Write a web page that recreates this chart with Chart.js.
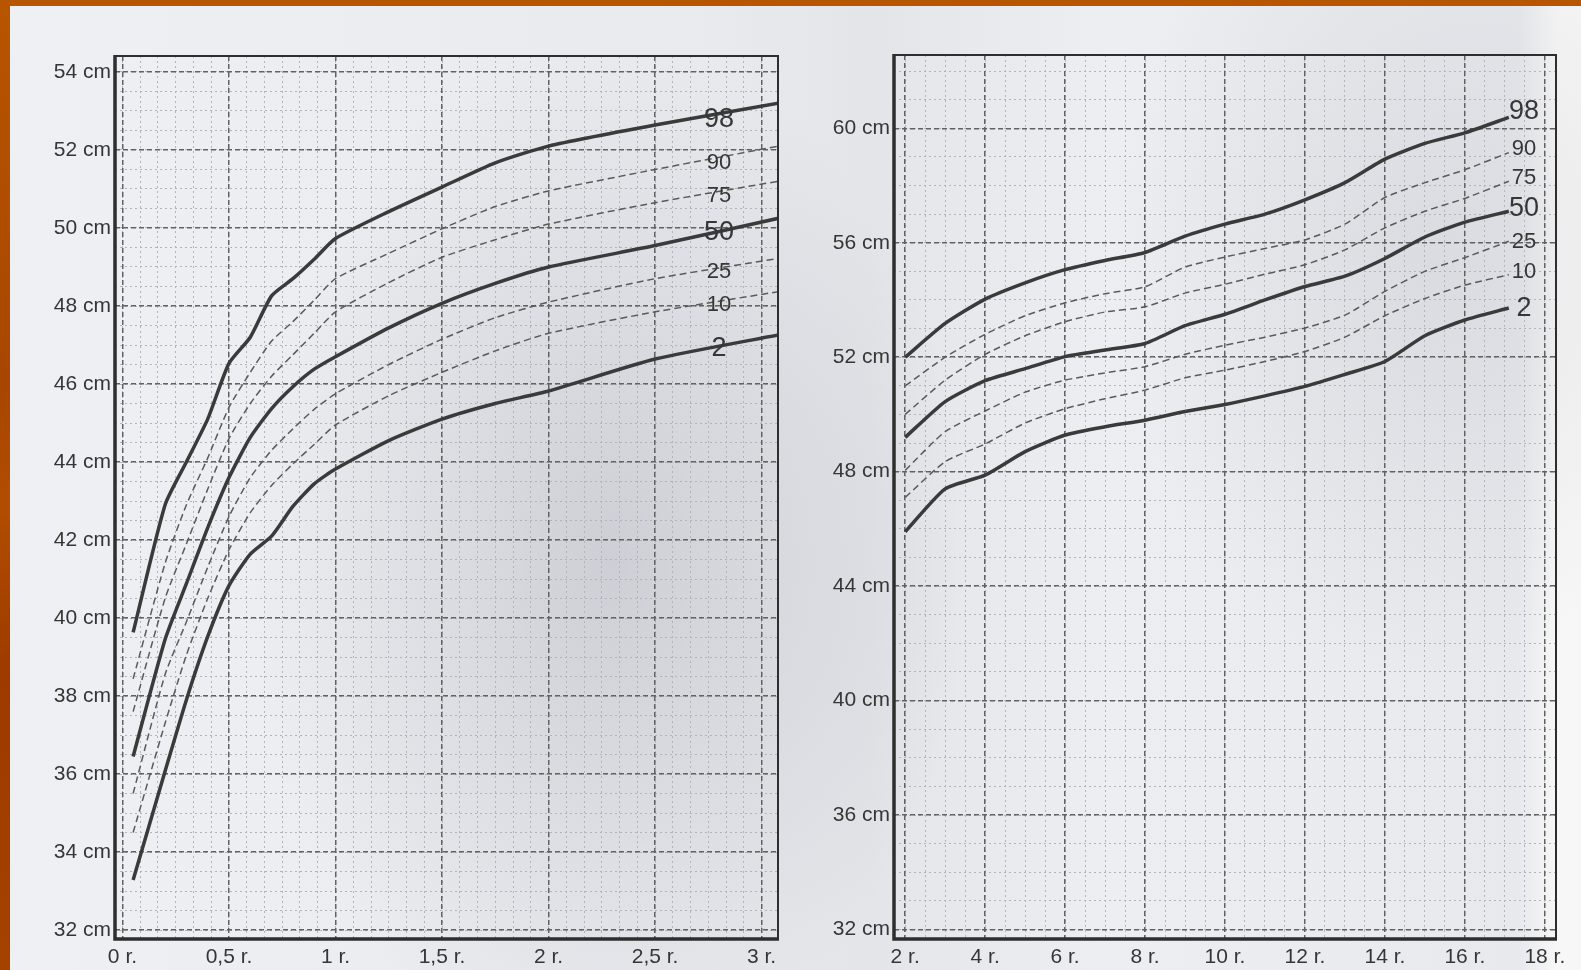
<!DOCTYPE html>
<html>
<head>
<meta charset="utf-8">
<title>Obwód głowy – siatki centylowe</title>
<script src="https://cdn.jsdelivr.net/npm/chart.js@4.4.1/dist/chart.umd.min.js"></script>
<style>
  html, body { margin: 0; padding: 0; }
  body {
    width: 1581px; height: 970px; overflow: hidden; position: relative;
    background:
      radial-gradient(ellipse 360px 520px at 610px 560px, rgba(140,142,155,0.30), rgba(140,142,155,0) 100%),
      radial-gradient(ellipse 320px 420px at 1430px 260px, rgba(140,142,155,0.16), rgba(140,142,155,0) 100%),
      linear-gradient(to right, #eff0f3 0, #e9eaee 45%, #e4e5e9 55%, #eceef1 70%, #e8e9ed 96%, #f7f7f7 98.5%);
  }
  .edge-top { position: absolute; left: 0; top: 0; width: 1581px; height: 6px; background: #b85500; }
  .edge-left { position: absolute; left: 0; top: 0; width: 10px; height: 970px;
    background: linear-gradient(to bottom, #b85500 0, #a84600 40%, #b24d00 52%, #9c3a00 70%, #a64200 100%); }
  #left { position: absolute; left: 0; top: 0; }
  #right { position: absolute; left: 800px; top: 0; }
</style>
</head>
<body>
<div class="edge-top"></div>
<div class="edge-left"></div>
<canvas id="left" width="800" height="970"></canvas>
<canvas id="right" width="781" height="970"></canvas>

<script>
// centyle (od góry)
const percentiles = ['98', '90', '75', '50', '25', '10', '2'];
const solidLines = ['98', '50', '2'];

// --- wykres lewy: 0-3 lata ---
const leftAges = [0.05, 0.2, 0.3, 0.4, 0.5, 0.6, 0.7, 0.8, 0.9, 1.0, 1.25, 1.5, 1.75, 2.0, 2.5, 3.08];
const left98 = [39.63, 42.9, 44.0, 45.1, 46.53, 47.2, 48.26, 48.7, 49.2, 49.73, 50.42, 51.05, 51.67, 52.1, 52.64, 53.2];
const left90 = [38.44, 41.4, 42.9, 44.1, 45.4, 46.3, 47.1, 47.6, 48.15, 48.7, 49.35, 49.98, 50.55, 50.95, 51.5, 52.1];
const left75 = [37.6, 40.5, 41.9, 43.3, 44.6, 45.5, 46.2, 46.75, 47.3, 47.85, 48.6, 49.25, 49.7, 50.1, 50.65, 51.2];
const left50 = [36.45, 39.45, 40.88, 42.31, 43.6, 44.63, 45.37, 45.93, 46.38, 46.7, 47.44, 48.07, 48.58, 49.0, 49.55, 50.25];
const left25 = [35.5, 38.55, 39.9, 41.3, 42.6, 43.6, 44.3, 44.85, 45.35, 45.75, 46.5, 47.15, 47.7, 48.1, 48.7, 49.22];
const left10 = [34.5, 37.3, 39.05, 40.5, 41.75, 42.7, 43.4, 43.95, 44.45, 44.95, 45.7, 46.3, 46.85, 47.3, 47.85, 48.37];
const left2 = [33.28, 36.07, 37.9, 39.52, 40.83, 41.64, 42.1, 42.86, 43.44, 43.82, 44.55, 45.1, 45.5, 45.82, 46.64, 47.26];
const leftXTicks = [0, 0.5, 1, 1.5, 2, 2.5, 3];
const leftYTicks = [32, 34, 36, 38, 40, 42, 44, 46, 48, 50, 52, 54];
const leftLabelAge = 2.8;
const leftLabelCm = [52.77, 51.67, 50.82, 49.88, 48.88, 48.03, 46.92];

// --- wykres prawy: 2-18 lat ---
const rightAges = [2, 3, 4, 5, 6, 7, 8, 9, 10, 11, 12, 13, 14, 15, 16, 17.1];
const right98 = [52.0, 53.18, 54.03, 54.6, 55.06, 55.38, 55.66, 56.23, 56.65, 57.0, 57.5, 58.1, 58.92, 59.47, 59.84, 60.38];
const right90 = [51.0, 52.0, 52.8, 53.45, 53.9, 54.22, 54.46, 55.15, 55.5, 55.8, 56.1, 56.65, 57.58, 58.1, 58.55, 59.15];
const right75 = [50.0, 51.2, 52.1, 52.75, 53.24, 53.58, 53.76, 54.24, 54.55, 54.9, 55.23, 55.75, 56.52, 57.1, 57.55, 58.15];
const right50 = [49.2, 50.45, 51.18, 51.6, 52.02, 52.25, 52.48, 53.1, 53.5, 54.0, 54.47, 54.83, 55.45, 56.2, 56.72, 57.1];
const right25 = [48.05, 49.4, 50.12, 50.78, 51.2, 51.45, 51.67, 52.1, 52.42, 52.7, 53.02, 53.47, 54.3, 55.0, 55.48, 56.05];
const right10 = [47.1, 48.35, 48.97, 49.7, 50.2, 50.55, 50.85, 51.28, 51.55, 51.85, 52.2, 52.7, 53.45, 54.05, 54.52, 54.88];
const right2 = [45.9, 47.4, 47.88, 48.7, 49.28, 49.57, 49.8, 50.1, 50.35, 50.65, 50.98, 51.4, 51.85, 52.75, 53.3, 53.72];
const rightXTicks = [2, 4, 6, 8, 10, 12, 14, 16, 18];
const rightYTicks = [32, 36, 40, 44, 48, 52, 56, 60];
const rightLabelAge = 17.48;
const rightLabelCm = [60.58, 59.27, 58.25, 57.2, 56.04, 54.99, 53.71];

const FONT = '"Liberation Sans", Arial, Helvetica, sans-serif';
const INK = '#363636';

// gęstsza siatka (co miesiąc / co 0,5 cm po lewej; co pół roku / co 1 cm po prawej)
function steps(from, to, step) {
  const out = [];
  for (let v = from; v <= to + 1e-9; v += step) out.push(+v.toFixed(4));
  return out;
}

function buildSeries(ages, rows) {
  return rows.map((vals, i) => {
    const solid = solidLines.includes(percentiles[i]);
    return {
      label: percentiles[i],
      data: ages.map((a, k) => ({ x: a, y: vals[k] })),
      borderColor: solid ? '#3a3a3a' : '#5a5a5a',
      borderWidth: solid ? 3.5 : 1.5,
      borderDash: solid ? [] : [7, 4],
      pointRadius: 0,
      tension: 0.2,
      fill: false
    };
  });
}

// ramka wykresu + opisy centyli na liniach
const frameAndLabels = {
  id: 'frameAndLabels',
  afterDatasetsDraw(chart, args, opts) {
    const { ctx, chartArea: a, scales } = chart;
    ctx.save();
    ctx.fillStyle = INK;
    ctx.textAlign = 'center';
    ctx.textBaseline = 'middle';
    opts.labelCm.forEach((cm, i) => {
      const big = solidLines.includes(percentiles[i]);
      ctx.font = (big ? '27px ' : '22px ') + FONT;
      ctx.fillText(percentiles[i], scales.x.getPixelForValue(opts.labelAge), scales.y.getPixelForValue(cm));
    });
    ctx.strokeStyle = '#2e2e2e';
    ctx.lineWidth = 2;
    ctx.beginPath();
    ctx.moveTo(a.left, a.top); ctx.lineTo(a.right, a.top); ctx.lineTo(a.right, a.bottom);
    ctx.stroke();
    ctx.lineWidth = 3.5;
    ctx.beginPath();
    ctx.moveTo(a.left, a.top - 1); ctx.lineTo(a.left, a.bottom); ctx.lineTo(a.right + 1, a.bottom);
    ctx.stroke();
    ctx.restore();
  }
};

function makePanel(id, p) {
  const setTicks = vals => s => { s.ticks = vals.map(v => ({ value: v })); };
  return new Chart(document.getElementById(id), {
    type: 'line',
    data: { datasets: buildSeries(p.ages, p.rows) },
    plugins: [frameAndLabels],
    options: {
      responsive: false,
      animation: false,
      events: [],
      layout: { padding: { top: p.top, right: p.right, left: 0, bottom: 0 } },
      plugins: {
        legend: { display: false },
        tooltip: { enabled: false },
        frameAndLabels: { labelAge: p.labelAge, labelCm: p.labelCm }
      },
      scales: {
        xMinor: {
          type: 'linear', position: 'bottom', min: p.xMin, max: p.xMax,
          afterBuildTicks: setTicks(p.xMinor),
          afterFit: s => { s.height = 0; },
          ticks: { display: false },
          grid: { color: '#b3b4ba', lineWidth: 1, drawTicks: false },
          border: { display: false, dash: [2, 3] }
        },
        yMinor: {
          type: 'linear', position: 'left', min: p.yMin, max: p.yMax,
          afterBuildTicks: setTicks(p.yMinor),
          afterFit: s => { s.width = 0; },
          ticks: { display: false },
          grid: { color: '#b3b4ba', lineWidth: 1, drawTicks: false },
          border: { display: false, dash: [2, 3] }
        },
        x: {
          type: 'linear', position: 'bottom', min: p.xMin, max: p.xMax,
          afterBuildTicks: setTicks(p.xTicks),
          afterFit: s => { s.height = p.bottom; },
          grid: { color: '#626262', lineWidth: 1.5, drawTicks: false },
          border: { display: false, dash: [5, 3] },
          ticks: {
            autoSkip: false, maxRotation: 0, padding: 6, color: INK,
            font: { family: FONT, size: 21 },
            callback: v => String(v).replace('.', ',') + ' r.'
          }
        },
        y: {
          type: 'linear', position: 'left', min: p.yMin, max: p.yMax,
          afterBuildTicks: setTicks(p.yTicks),
          afterFit: s => { s.width = p.axisW; },
          grid: { color: '#626262', lineWidth: 1.5, drawTicks: false },
          border: { display: false, dash: [5, 3] },
          ticks: {
            padding: 4, color: INK,
            font: { family: FONT, size: 21 },
            callback: v => v + ' cm'
          }
        }
      }
    }
  });
}

makePanel('left', {
  ages: leftAges,
  rows: [left98, left90, left75, left50, left25, left10, left2],
  xMin: -0.035, xMax: 3.077, yMin: 31.77, yMax: 54.41,
  xTicks: leftXTicks, yTicks: leftYTicks,
  xMinor: steps(0, 3.077, 1 / 12), yMinor: steps(32, 54, 0.5),
  labelAge: leftLabelAge, labelCm: leftLabelCm,
  top: 56, right: 22, bottom: 31, axisW: 115
});

makePanel('right', {
  ages: rightAges,
  rows: [right98, right90, right75, right50, right25, right10, right2],
  xMin: 1.72, xMax: 18.28, yMin: 31.67, yMax: 62.56,
  xTicks: rightXTicks, yTicks: rightYTicks,
  xMinor: steps(2, 18, 0.5), yMinor: steps(32, 62, 1),
  labelAge: rightLabelAge, labelCm: rightLabelCm,
  top: 55, right: 25, bottom: 31, axisW: 94
});
</script>
</body>
</html>
